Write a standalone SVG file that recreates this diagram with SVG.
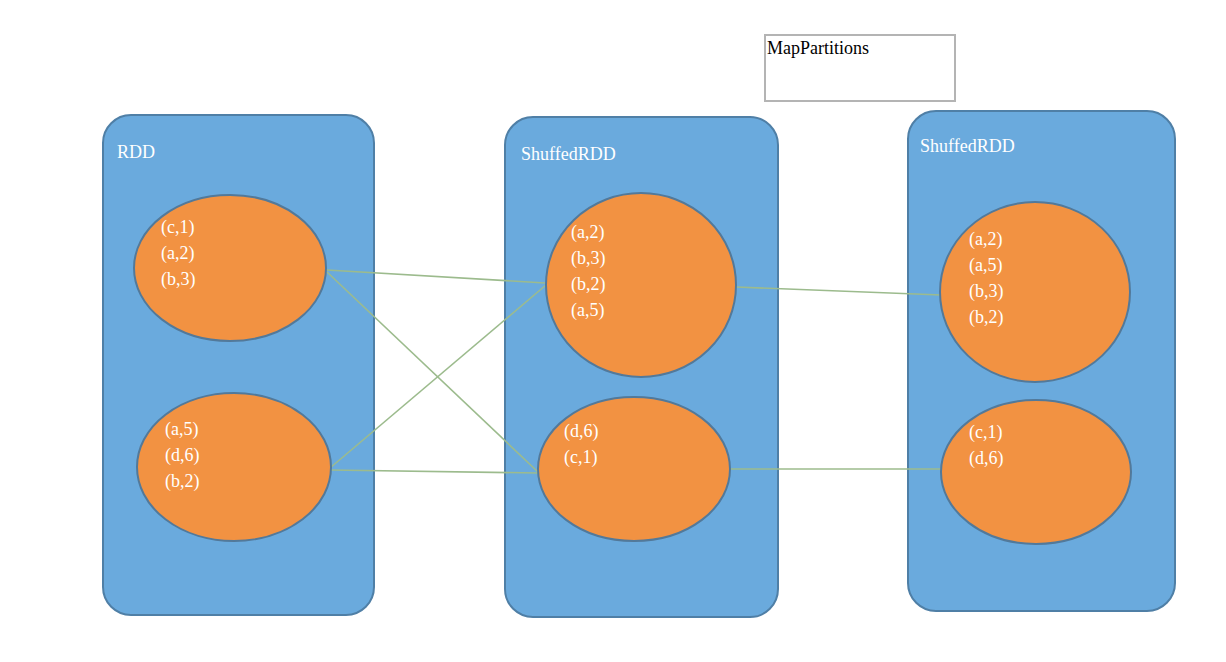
<svg xmlns="http://www.w3.org/2000/svg" width="1226" height="662" viewBox="0 0 1226 662">
<style>
.c{fill:#6aaadd;stroke:#4f7fa6;stroke-width:2}
.e{fill:#f29242;stroke:#52799a;stroke-width:2}
.w{fill:#fff;font-family:"Liberation Serif",serif;font-size:18px}
.l{stroke:#9cbb8d;stroke-width:1.6;fill:none}
</style>
<rect width="1226" height="662" fill="#fff"/>
<g id="mp"><rect x="765" y="35" width="190" height="66" fill="#fff" stroke="#b4b4b4" stroke-width="2"/><text x="767" y="54" font-family="Liberation Serif,serif" font-size="18">MapPartitions</text></g>
<g id="rdd"><rect class="c" x="103" y="115" width="271" height="500" rx="28"/><text class="w" x="117" y="158">RDD</text></g>
<g id="s1"><rect class="c" x="505" y="117" width="273" height="500" rx="28"/><text class="w" x="521" y="160">ShuffedRDD</text></g>
<g id="s2"><rect class="c" x="908" y="111" width="267" height="500" rx="28"/><text class="w" x="920" y="152">ShuffedRDD</text></g>
<g id="connectors">
<line class="l" x1="327" y1="270" x2="545" y2="283"/>
<line class="l" x1="327" y1="272" x2="538" y2="472"/>
<line class="l" x1="330" y1="468" x2="546" y2="285"/>
<line class="l" x1="330" y1="470" x2="538" y2="473"/>
<line class="l" x1="736" y1="287" x2="941" y2="295"/>
<line class="l" x1="730" y1="469" x2="941" y2="469"/>
</g>
<g id="e1"><ellipse class="e" cx="230" cy="268" rx="96" ry="73"/><text class="w" x="161" y="233">(c,1)</text><text class="w" x="161" y="259">(a,2)</text><text class="w" x="161" y="285">(b,3)</text></g>
<g id="e2"><ellipse class="e" cx="234" cy="467" rx="97" ry="74"/><text class="w" x="165" y="435">(a,5)</text><text class="w" x="165" y="461">(d,6)</text><text class="w" x="165" y="487">(b,2)</text></g>
<g id="e3"><ellipse class="e" cx="641" cy="285" rx="95" ry="92"/><text class="w" x="571" y="238">(a,2)</text><text class="w" x="571" y="264">(b,3)</text><text class="w" x="571" y="290">(b,2)</text><text class="w" x="571" y="316">(a,5)</text></g>
<g id="e4"><ellipse class="e" cx="634" cy="469" rx="96" ry="72"/><text class="w" x="564" y="437">(d,6)</text><text class="w" x="564" y="463">(c,1)</text></g>
<g id="e5"><ellipse class="e" cx="1035" cy="292" rx="95" ry="90"/><text class="w" x="969" y="245">(a,2)</text><text class="w" x="969" y="271">(a,5)</text><text class="w" x="969" y="297">(b,3)</text><text class="w" x="969" y="323">(b,2)</text></g>
<g id="e6"><ellipse class="e" cx="1036" cy="472" rx="95" ry="72"/><text class="w" x="969" y="438">(c,1)</text><text class="w" x="969" y="464">(d,6)</text></g>
</svg>
